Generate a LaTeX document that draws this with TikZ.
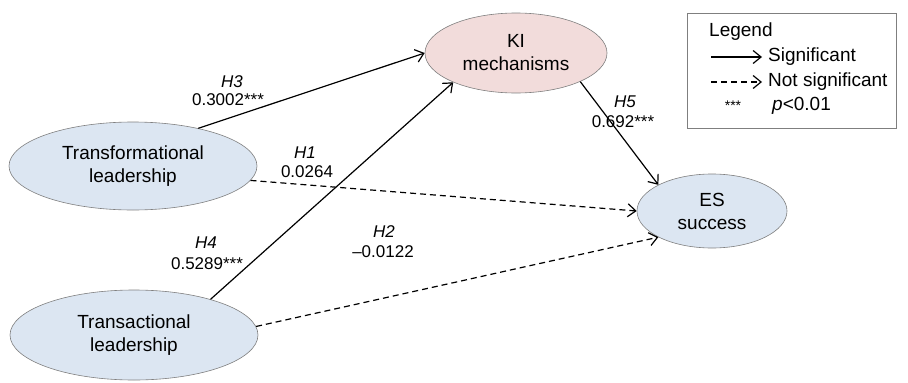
\documentclass[tikz,border=0pt]{standalone}
\usepackage{fontspec}
\setmainfont{Liberation Sans}
\usetikzlibrary{shapes.geometric,arrows.meta}
\definecolor{blueF}{HTML}{DCE6F2}
\definecolor{pinkF}{HTML}{F2DCDB}
\definecolor{bord}{HTML}{7F7F7F}
\begin{document}
\begin{tikzpicture}[x=1pt,y=-1pt,
  lat/.style={ellipse,draw=bord,line width=0.6pt,inner sep=0pt,align=center,font=\fontsize{19}{23}\selectfont},
  lbl/.style={font=\fontsize{17}{20}\selectfont,inner sep=0pt},
  lgt/.style={font=\fontsize{19}{22}\selectfont,inner sep=0pt,anchor=west},
  sig/.style={line width=1.2pt,-{Straight Barb[length=8pt,width=13pt]}},
  nsig/.style={sig,dash pattern=on 6pt off 4pt}]
\useasboundingbox (0,0) rectangle (908,383);
% latent nodes
\node[lat,fill=pinkF,minimum width=182pt,minimum height=80pt] (ki) at (516,53) {KI\\mechanisms};
\node[lat,fill=blueF,minimum width=248pt,minimum height=88pt] (tf) at (133,166) {Transformational\\leadership};
\node[lat,fill=blueF,minimum width=248pt,minimum height=90pt] (ta) at (134,335) {Transactional\\leadership};
\node[lat,fill=blueF,minimum width=150pt,minimum height=74pt] (es) at (712,211) {ES\\success};
% paths
\draw[sig] (tf.30) -- (ki.west);
\draw[sig] (ta.25) -- (ki.205);
\draw[sig] (ki.336) -- (es.154);
\draw[nsig] (tf.-7) -- (es.west);
\draw[nsig] (ta.4) -- (es.206);
% labels
\node[lbl] (h3) at (232,82) {\textit{H3}};
\node[lbl] (v3) at (228,100) {0.3002***};
\node[lbl] (h1) at (305,153) {\textit{H1}};
\node[lbl] (v1) at (307,172) {0.0264};
\node[lbl] (h4) at (206,243) {\textit{H4}};
\node[lbl] (v4) at (207,264) {0.5289***};
\node[lbl] (h2) at (384,232) {\textit{H2}};
\node[lbl] (v2) at (383,252) {–0.0122};
\node[lbl] (h5) at (625,102) {\textit{H5}};
\node[lbl] (v5) at (623,122) {0.692***};
% legend
\node[draw=bord,line width=0.6pt,minimum width=209pt,minimum height=115pt,inner sep=0pt] (leg) at (791.5,70.5) {};
\node[lgt] (legt) at (709,32) {Legend};
\coordinate (s1) at (711,57);
\coordinate (s2) at (762,57);
\draw[sig] (s1) -- (s2);
\node[lgt] (sigt) at (768,57) {Significant};
\coordinate (n1) at (711,82);
\coordinate (n2) at (762,82);
\draw[nsig] (n1) -- (n2);
\node[lgt] (nsigt) at (768,82) {Not significant};
\node[font=\fontsize{14}{16}\selectfont,inner sep=0pt] (ast) at (733,106) {***};
\node[lgt] (pt) at (772,106) {\textit{p}<0.01};
\end{tikzpicture}
\end{document}
